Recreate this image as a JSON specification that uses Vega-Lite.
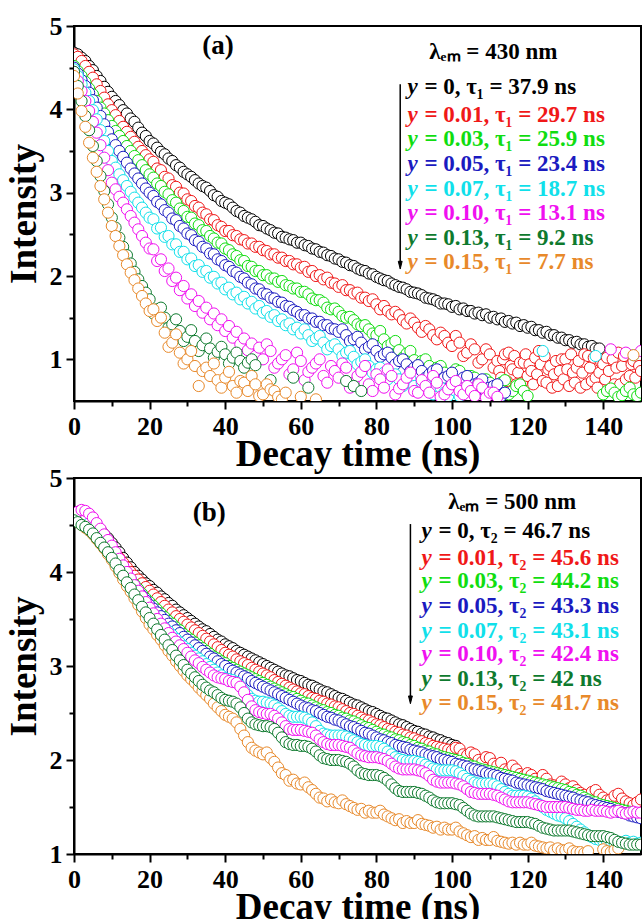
{
"$schema":"https://vega.github.io/schema/vega-lite/v6.json",
"padding":{"left":4,"top":12,"right":0,"bottom":0},
"bounds":"flush",
"spacing":77,
"config":{
"view":{"stroke":"#000","strokeWidth":2},
"axis":{"domainColor":"#000","domainWidth":2,"tickColor":"#000","tickWidth":2,"labelFont":"Liberation Serif","labelFontSize":26,"labelFontWeight":"bold","labelColor":"#000","titleFont":"Liberation Serif","titleFontSize":37,"titleFontWeight":"bold","titleColor":"#000","grid":false,"labelFlush":false,"labelOverlap":false},
"text":{"font":"Liberation Serif","fontWeight":"bold"},
"point":{"shape":"circle","filled":true,"fill":"#ffffff","strokeWidth":1,"size":125,"opacity":1}
},
"datasets":{
"la":[{"s":0,"t":"= 0, τ₁ = 37.9 ns","y":4.18},{"s":1,"t":"= 0.01, τ₁ = 29.7 ns","y":3.85},{"s":2,"t":"= 0.03, τ₁ = 25.9 ns","y":3.56},{"s":3,"t":"= 0.05, τ₁ = 23.4 ns","y":3.26},{"s":4,"t":"= 0.07, τ₁ = 18.7 ns","y":2.96},{"s":5,"t":"= 0.10, τ₁ = 13.1 ns","y":2.67},{"s":6,"t":"= 0.13, τ₁ = 9.2 ns","y":2.37},{"s":7,"t":"= 0.15, τ₁ = 7.7 ns","y":2.08}],
"lb":[{"s":0,"t":"= 0, τ₂ = 46.7 ns","y":4.36},{"s":1,"t":"= 0.01, τ₂ = 45.6 ns","y":4.07},{"s":2,"t":"= 0.03, τ₂ = 44.2 ns","y":3.83},{"s":3,"t":"= 0.05, τ₂ = 43.3 ns","y":3.56},{"s":4,"t":"= 0.07, τ₂ = 43.1 ns","y":3.30},{"s":5,"t":"= 0.10, τ₂ = 42.4 ns","y":3.05},{"s":6,"t":"= 0.13, τ₂ = 42 ns","y":2.79},{"s":7,"t":"= 0.15, τ₂ = 41.7 ns","y":2.53}],
"a0":[{"x":0,"y":4.68},{"x":1,"y":4.66},{"x":2,"y":4.62},{"x":3,"y":4.58},{"x":4,"y":4.52},{"x":5,"y":4.47},{"x":6,"y":4.40},{"x":7,"y":4.34},{"x":8,"y":4.27},{"x":9,"y":4.21},{"x":10,"y":4.15},{"x":11,"y":4.10},{"x":12,"y":4.05},{"x":13,"y":3.99},{"x":14,"y":3.95},{"x":15,"y":3.89},{"x":16,"y":3.85},{"x":17,"y":3.78},{"x":18,"y":3.72},{"x":19,"y":3.68},{"x":20,"y":3.62},{"x":21,"y":3.59},{"x":22,"y":3.54},{"x":23,"y":3.49},{"x":24,"y":3.46},{"x":25,"y":3.41},{"x":26,"y":3.38},{"x":27,"y":3.33},{"x":28,"y":3.30},{"x":29,"y":3.25},{"x":30,"y":3.22},{"x":31,"y":3.19},{"x":32,"y":3.15},{"x":33,"y":3.11},{"x":34,"y":3.08},{"x":35,"y":3.06},{"x":36,"y":3.02},{"x":37,"y":2.97},{"x":38,"y":2.95},{"x":39,"y":2.90},{"x":40,"y":2.88},{"x":41,"y":2.86},{"x":42,"y":2.82},{"x":43,"y":2.78},{"x":44,"y":2.76},{"x":45,"y":2.72},{"x":46,"y":2.70},{"x":47,"y":2.68},{"x":48,"y":2.65},{"x":49,"y":2.61},{"x":50,"y":2.60},{"x":51,"y":2.57},{"x":52,"y":2.55},{"x":53,"y":2.52},{"x":54,"y":2.51},{"x":55,"y":2.47},{"x":56,"y":2.46},{"x":57,"y":2.44},{"x":58,"y":2.43},{"x":59,"y":2.40},{"x":60,"y":2.40},{"x":61,"y":2.37},{"x":62,"y":2.36},{"x":63,"y":2.33},{"x":64,"y":2.32},{"x":65,"y":2.29},{"x":66,"y":2.28},{"x":67,"y":2.25},{"x":68,"y":2.24},{"x":69,"y":2.21},{"x":70,"y":2.20},{"x":71,"y":2.17},{"x":72,"y":2.16},{"x":73,"y":2.13},{"x":74,"y":2.12},{"x":75,"y":2.09},{"x":76,"y":2.07},{"x":77,"y":2.06},{"x":78,"y":2.03},{"x":79,"y":2.02},{"x":80,"y":1.99},{"x":81,"y":1.97},{"x":82,"y":1.95},{"x":83,"y":1.94},{"x":84,"y":1.91},{"x":85,"y":1.89},{"x":86,"y":1.87},{"x":87,"y":1.86},{"x":88,"y":1.84},{"x":89,"y":1.81},{"x":90,"y":1.80},{"x":91,"y":1.79},{"x":92,"y":1.77},{"x":93,"y":1.74},{"x":94,"y":1.73},{"x":95,"y":1.72},{"x":96,"y":1.70},{"x":97,"y":1.67},{"x":98,"y":1.67},{"x":99,"y":1.66},{"x":100,"y":1.63},{"x":101,"y":1.64},{"x":102,"y":1.60},{"x":103,"y":1.61},{"x":104,"y":1.58},{"x":105,"y":1.58},{"x":106,"y":1.55},{"x":107,"y":1.56},{"x":108,"y":1.53},{"x":109,"y":1.54},{"x":110,"y":1.50},{"x":111,"y":1.51},{"x":112,"y":1.48},{"x":113,"y":1.49},{"x":114,"y":1.45},{"x":115,"y":1.46},{"x":116,"y":1.43},{"x":117,"y":1.44},{"x":118,"y":1.40},{"x":119,"y":1.41},{"x":120,"y":1.38},{"x":121,"y":1.39},{"x":122,"y":1.35},{"x":123,"y":1.35},{"x":124,"y":1.32},{"x":125,"y":1.33},{"x":126,"y":1.29},{"x":127,"y":1.29},{"x":128,"y":1.26},{"x":129,"y":1.26},{"x":130,"y":1.23},{"x":131,"y":1.23},{"x":132,"y":1.20},{"x":133,"y":1.21},{"x":134,"y":1.18},{"x":135,"y":1.18},{"x":136,"y":1.15},{"x":137,"y":1.16},{"x":138,"y":1.13},{"x":139,"y":1.13}],
"a1":[{"x":0,"y":4.66},{"x":1,"y":4.63},{"x":2,"y":4.58},{"x":3,"y":4.52},{"x":4,"y":4.45},{"x":5,"y":4.38},{"x":6,"y":4.30},{"x":7,"y":4.22},{"x":8,"y":4.14},{"x":9,"y":4.06},{"x":10,"y":3.99},{"x":11,"y":3.93},{"x":12,"y":3.86},{"x":13,"y":3.79},{"x":14,"y":3.73},{"x":15,"y":3.67},{"x":16,"y":3.61},{"x":17,"y":3.55},{"x":18,"y":3.50},{"x":19,"y":3.45},{"x":20,"y":3.40},{"x":21,"y":3.37},{"x":22,"y":3.29},{"x":23,"y":3.27},{"x":24,"y":3.19},{"x":25,"y":3.17},{"x":26,"y":3.09},{"x":27,"y":3.07},{"x":28,"y":3.00},{"x":29,"y":2.99},{"x":30,"y":2.92},{"x":31,"y":2.90},{"x":32,"y":2.84},{"x":33,"y":2.82},{"x":34,"y":2.76},{"x":35,"y":2.74},{"x":36,"y":2.68},{"x":37,"y":2.67},{"x":38,"y":2.61},{"x":39,"y":2.59},{"x":40,"y":2.54},{"x":41,"y":2.54},{"x":42,"y":2.49},{"x":43,"y":2.48},{"x":44,"y":2.44},{"x":45,"y":2.43},{"x":46,"y":2.39},{"x":47,"y":2.39},{"x":48,"y":2.35},{"x":49,"y":2.35},{"x":50,"y":2.31},{"x":51,"y":2.30},{"x":52,"y":2.26},{"x":53,"y":2.26},{"x":54,"y":2.22},{"x":55,"y":2.22},{"x":56,"y":2.18},{"x":57,"y":2.18},{"x":58,"y":2.14},{"x":59,"y":2.14},{"x":60,"y":2.10},{"x":61,"y":2.11},{"x":62,"y":2.05},{"x":63,"y":2.06},{"x":64,"y":2.00},{"x":65,"y":2.01},{"x":66,"y":1.96},{"x":67,"y":1.98},{"x":68,"y":1.92},{"x":69,"y":1.91},{"x":70,"y":1.87},{"x":71,"y":1.89},{"x":72,"y":1.83},{"x":73,"y":1.83},{"x":74,"y":1.79},{"x":75,"y":1.80},{"x":76,"y":1.74},{"x":77,"y":1.74},{"x":78,"y":1.70},{"x":79,"y":1.72},{"x":80,"y":1.66},{"x":81,"y":1.60},{"x":82,"y":1.64},{"x":83,"y":1.58},{"x":84,"y":1.54},{"x":85,"y":1.57},{"x":86,"y":1.53},{"x":87,"y":1.47},{"x":88,"y":1.43},{"x":89,"y":1.49},{"x":90,"y":1.44},{"x":91,"y":1.38},{"x":92,"y":1.33},{"x":93,"y":1.40},{"x":94,"y":1.36},{"x":95,"y":1.29},{"x":96,"y":1.24},{"x":97,"y":1.32},{"x":98,"y":1.28},{"x":99,"y":1.20},{"x":100,"y":1.16},{"x":101,"y":1.28},{"x":102,"y":1.20},{"x":103,"y":1.04},{"x":104,"y":1.08},{"x":105,"y":1.18},{"x":106,"y":1.12},{"x":107,"y":0.96},{"x":108,"y":1.00},{"x":109,"y":1.12},{"x":110,"y":1.06},{"x":111,"y":0.90},{"x":112,"y":0.98},{"x":112.5,"y":0.86},{"x":113,"y":0.78},{"x":113.5,"y":1.00},{"x":114,"y":1.06},{"x":114.5,"y":0.74},{"x":115,"y":1.08},{"x":115.5,"y":0.92},{"x":116,"y":0.88},{"x":116.5,"y":1.04},{"x":117,"y":0.70},{"x":117.5,"y":0.84},{"x":118,"y":0.96},{"x":118.5,"y":0.72},{"x":119,"y":0.96},{"x":119.5,"y":1.06},{"x":120,"y":0.80},{"x":120.5,"y":0.94},{"x":121,"y":0.86},{"x":121.5,"y":0.70},{"x":122,"y":1.02},{"x":122.5,"y":0.82},{"x":123,"y":1.10},{"x":123.5,"y":0.94},{"x":124,"y":0.74},{"x":124.5,"y":1.04},{"x":125,"y":0.72},{"x":125.5,"y":0.88},{"x":126,"y":0.92},{"x":126.5,"y":0.66},{"x":127,"y":0.82},{"x":127.5,"y":0.98},{"x":128,"y":0.68},{"x":128.5,"y":0.86},{"x":129,"y":1.00},{"x":129.5,"y":0.76},{"x":130,"y":1.00},{"x":130.5,"y":0.88},{"x":131,"y":0.68},{"x":131.5,"y":1.06},{"x":132,"y":0.84},{"x":132.5,"y":0.72},{"x":133,"y":0.90},{"x":133.5,"y":0.98},{"x":134,"y":0.66},{"x":134.5,"y":0.84},{"x":135,"y":1.06},{"x":135.5,"y":0.70},{"x":136,"y":1.04},{"x":136.5,"y":0.90},{"x":137,"y":0.74},{"x":137.5,"y":1.02},{"x":138,"y":0.78},{"x":138.5,"y":0.66},{"x":139,"y":0.84},{"x":139.5,"y":0.96},{"x":140,"y":0.94},{"x":140.5,"y":0.76},{"x":141,"y":1.02},{"x":141.5,"y":0.86},{"x":142,"y":0.64},{"x":142.5,"y":1.00},{"x":143,"y":0.70},{"x":143.5,"y":0.90},{"x":144,"y":1.08},{"x":144.5,"y":0.70},{"x":145,"y":0.92},{"x":145.5,"y":1.04},{"x":146,"y":0.76},{"x":146.5,"y":0.62},{"x":147,"y":0.80},{"x":147.5,"y":0.94},{"x":148,"y":0.98},{"x":148.5,"y":0.78},{"x":149,"y":1.04},{"x":149.5,"y":0.92},{"x":150,"y":0.86}],
"a2":[{"x":0,"y":4.52},{"x":1,"y":4.46},{"x":2,"y":4.40},{"x":3,"y":4.33},{"x":4,"y":4.25},{"x":5,"y":4.18},{"x":6,"y":4.10},{"x":7,"y":4.02},{"x":8,"y":3.95},{"x":9,"y":3.87},{"x":10,"y":3.80},{"x":11,"y":3.74},{"x":12,"y":3.68},{"x":13,"y":3.62},{"x":14,"y":3.56},{"x":15,"y":3.50},{"x":16,"y":3.44},{"x":17,"y":3.39},{"x":18,"y":3.33},{"x":19,"y":3.27},{"x":20,"y":3.22},{"x":21,"y":3.18},{"x":22,"y":3.11},{"x":23,"y":3.08},{"x":24,"y":3.01},{"x":25,"y":2.98},{"x":26,"y":2.91},{"x":27,"y":2.88},{"x":28,"y":2.81},{"x":29,"y":2.78},{"x":30,"y":2.71},{"x":31,"y":2.70},{"x":32,"y":2.63},{"x":33,"y":2.61},{"x":34,"y":2.55},{"x":35,"y":2.54},{"x":36,"y":2.48},{"x":37,"y":2.45},{"x":38,"y":2.40},{"x":39,"y":2.39},{"x":40,"y":2.33},{"x":41,"y":2.31},{"x":42,"y":2.26},{"x":43,"y":2.24},{"x":44,"y":2.19},{"x":45,"y":2.18},{"x":46,"y":2.12},{"x":47,"y":2.11},{"x":48,"y":2.06},{"x":49,"y":2.06},{"x":50,"y":2.01},{"x":51,"y":2.01},{"x":52,"y":1.97},{"x":53,"y":1.97},{"x":54,"y":1.93},{"x":55,"y":1.94},{"x":56,"y":1.89},{"x":57,"y":1.88},{"x":58,"y":1.85},{"x":59,"y":1.85},{"x":60,"y":1.81},{"x":61,"y":1.81},{"x":62,"y":1.78},{"x":63,"y":1.73},{"x":64,"y":1.71},{"x":65,"y":1.71},{"x":66,"y":1.68},{"x":67,"y":1.62},{"x":68,"y":1.60},{"x":69,"y":1.61},{"x":70,"y":1.57},{"x":71,"y":1.52},{"x":72,"y":1.50},{"x":73,"y":1.51},{"x":74,"y":1.47},{"x":75,"y":1.42},{"x":76,"y":1.40},{"x":77,"y":1.41},{"x":78,"y":1.36},{"x":79,"y":1.31},{"x":80,"y":1.29},{"x":81,"y":1.34},{"x":82,"y":1.24},{"x":83,"y":1.16},{"x":84,"y":1.19},{"x":85,"y":1.22},{"x":86,"y":1.11},{"x":87,"y":1.02},{"x":88,"y":1.07},{"x":89,"y":1.10},{"x":90,"y":0.99},{"x":91,"y":0.92},{"x":92,"y":0.98},{"x":93,"y":1.00},{"x":94,"y":0.92},{"x":95,"y":0.82},{"x":96,"y":0.90},{"x":97,"y":0.92},{"x":98,"y":0.84},{"x":99,"y":0.74},{"x":100,"y":0.80},{"x":101,"y":0.88},{"x":102,"y":0.86},{"x":103,"y":0.66},{"x":104,"y":0.72},{"x":105,"y":0.80},{"x":106,"y":0.78},{"x":107,"y":0.60},{"x":108,"y":0.66},{"x":109,"y":0.76},{"x":110,"y":0.72},{"x":111,"y":0.66},{"x":112,"y":0.60},{"x":113,"y":0.72},{"x":114,"y":0.75},{"x":115,"y":0.58},{"x":116,"y":0.62},{"x":117,"y":0.68},{"x":118,"y":0.70},{"x":119,"y":0.62},{"x":120,"y":0.56},{"x":140,"y":0.58},{"x":141,"y":0.62},{"x":142,"y":0.65},{"x":143,"y":0.60},{"x":144,"y":0.55},{"x":145,"y":0.57},{"x":146,"y":0.62},{"x":147,"y":0.66},{"x":148,"y":0.58},{"x":149,"y":0.56},{"x":150,"y":0.60}],
"a3":[{"x":0,"y":4.50},{"x":1,"y":4.43},{"x":2,"y":4.35},{"x":3,"y":4.28},{"x":4,"y":4.20},{"x":5,"y":4.11},{"x":6,"y":4.02},{"x":7,"y":3.92},{"x":8,"y":3.82},{"x":9,"y":3.73},{"x":10,"y":3.64},{"x":11,"y":3.57},{"x":12,"y":3.50},{"x":13,"y":3.43},{"x":14,"y":3.36},{"x":15,"y":3.29},{"x":16,"y":3.23},{"x":17,"y":3.17},{"x":18,"y":3.11},{"x":19,"y":3.05},{"x":20,"y":3.00},{"x":21,"y":2.96},{"x":22,"y":2.89},{"x":23,"y":2.86},{"x":24,"y":2.79},{"x":25,"y":2.76},{"x":26,"y":2.69},{"x":27,"y":2.67},{"x":28,"y":2.60},{"x":29,"y":2.57},{"x":30,"y":2.51},{"x":31,"y":2.49},{"x":32,"y":2.43},{"x":33,"y":2.41},{"x":34,"y":2.35},{"x":35,"y":2.33},{"x":36,"y":2.27},{"x":37,"y":2.26},{"x":38,"y":2.20},{"x":39,"y":2.18},{"x":40,"y":2.13},{"x":41,"y":2.11},{"x":42,"y":2.06},{"x":43,"y":2.04},{"x":44,"y":1.99},{"x":45,"y":1.97},{"x":46,"y":1.92},{"x":47,"y":1.90},{"x":48,"y":1.85},{"x":49,"y":1.84},{"x":50,"y":1.79},{"x":51,"y":1.78},{"x":52,"y":1.74},{"x":53,"y":1.73},{"x":54,"y":1.69},{"x":55,"y":1.68},{"x":56,"y":1.64},{"x":57,"y":1.63},{"x":58,"y":1.59},{"x":59,"y":1.57},{"x":60,"y":1.53},{"x":61,"y":1.53},{"x":62,"y":1.49},{"x":63,"y":1.49},{"x":64,"y":1.45},{"x":65,"y":1.45},{"x":66,"y":1.41},{"x":67,"y":1.41},{"x":68,"y":1.37},{"x":69,"y":1.36},{"x":70,"y":1.33},{"x":71,"y":1.36},{"x":72,"y":1.29},{"x":73,"y":1.22},{"x":74,"y":1.24},{"x":75,"y":1.27},{"x":76,"y":1.20},{"x":77,"y":1.12},{"x":78,"y":1.15},{"x":79,"y":1.18},{"x":80,"y":1.10},{"x":81,"y":1.03},{"x":82,"y":1.06},{"x":83,"y":1.08},{"x":84,"y":1.02},{"x":85,"y":0.94},{"x":86,"y":0.98},{"x":87,"y":1.00},{"x":88,"y":0.94},{"x":89,"y":0.86},{"x":90,"y":0.90},{"x":91,"y":0.93},{"x":92,"y":0.86},{"x":93,"y":0.78},{"x":94,"y":0.82},{"x":95,"y":0.86},{"x":96,"y":0.88},{"x":97,"y":0.72},{"x":98,"y":0.78},{"x":99,"y":0.80},{"x":100,"y":0.84},{"x":101,"y":0.68},{"x":102,"y":0.74},{"x":103,"y":0.78},{"x":104,"y":0.80},{"x":105,"y":0.64},{"x":106,"y":0.70},{"x":107,"y":0.72},{"x":108,"y":0.76},{"x":109,"y":0.60},{"x":110,"y":0.66},{"x":111,"y":0.68},{"x":112,"y":0.70},{"x":113,"y":0.56},{"x":114,"y":0.60}],
"a4":[{"x":0,"y":4.48},{"x":1,"y":4.40},{"x":2,"y":4.30},{"x":3,"y":4.20},{"x":4,"y":4.10},{"x":5,"y":3.99},{"x":6,"y":3.88},{"x":7,"y":3.75},{"x":8,"y":3.62},{"x":9,"y":3.50},{"x":10,"y":3.38},{"x":11,"y":3.30},{"x":12,"y":3.22},{"x":13,"y":3.15},{"x":14,"y":3.08},{"x":15,"y":3.01},{"x":16,"y":2.94},{"x":17,"y":2.88},{"x":18,"y":2.82},{"x":19,"y":2.76},{"x":20,"y":2.70},{"x":21,"y":2.68},{"x":22,"y":2.57},{"x":23,"y":2.58},{"x":24,"y":2.47},{"x":25,"y":2.48},{"x":26,"y":2.38},{"x":27,"y":2.38},{"x":28,"y":2.29},{"x":29,"y":2.29},{"x":30,"y":2.20},{"x":31,"y":2.21},{"x":32,"y":2.12},{"x":33,"y":2.13},{"x":34,"y":2.05},{"x":35,"y":2.06},{"x":36,"y":1.98},{"x":37,"y":1.99},{"x":38,"y":1.91},{"x":39,"y":1.92},{"x":40,"y":1.84},{"x":41,"y":1.86},{"x":42,"y":1.78},{"x":43,"y":1.80},{"x":44,"y":1.72},{"x":45,"y":1.75},{"x":46,"y":1.67},{"x":47,"y":1.69},{"x":48,"y":1.61},{"x":49,"y":1.64},{"x":50,"y":1.56},{"x":51,"y":1.58},{"x":52,"y":1.51},{"x":53,"y":1.53},{"x":54,"y":1.46},{"x":55,"y":1.48},{"x":56,"y":1.41},{"x":57,"y":1.43},{"x":58,"y":1.36},{"x":59,"y":1.38},{"x":60,"y":1.31},{"x":61,"y":1.36},{"x":62,"y":1.29},{"x":63,"y":1.22},{"x":64,"y":1.25},{"x":65,"y":1.28},{"x":66,"y":1.20},{"x":67,"y":1.12},{"x":68,"y":1.16},{"x":69,"y":1.18},{"x":70,"y":1.12},{"x":71,"y":1.04},{"x":72,"y":1.08},{"x":73,"y":1.10},{"x":74,"y":1.03},{"x":75,"y":0.94},{"x":76,"y":0.97},{"x":77,"y":1.00},{"x":78,"y":0.92},{"x":79,"y":0.84},{"x":80,"y":0.88},{"x":81,"y":0.90},{"x":82,"y":0.84},{"x":83,"y":0.76},{"x":84,"y":0.80},{"x":85,"y":0.82},{"x":86,"y":0.76},{"x":87,"y":0.68},{"x":88,"y":0.72},{"x":89,"y":0.76},{"x":90,"y":0.68},{"x":91,"y":0.62},{"x":92,"y":0.72},{"x":93,"y":0.70},{"x":94,"y":0.64},{"x":95,"y":0.58},{"x":96,"y":0.68},{"x":97,"y":0.66},{"x":98,"y":0.60},{"x":99,"y":0.56},{"x":100,"y":0.64},{"x":101,"y":0.62},{"x":102,"y":0.56},{"x":124,"y":1.10},{"x":138,"y":1.04},{"x":148,"y":1.05}],
"a5":[{"x":0,"y":4.45},{"x":1,"y":4.34},{"x":2,"y":4.22},{"x":3,"y":4.10},{"x":4,"y":3.98},{"x":5,"y":3.85},{"x":6,"y":3.72},{"x":7,"y":3.57},{"x":8,"y":3.42},{"x":9,"y":3.27},{"x":10,"y":3.12},{"x":11,"y":3.04},{"x":12,"y":2.95},{"x":13,"y":2.88},{"x":14,"y":2.80},{"x":15,"y":2.72},{"x":16,"y":2.64},{"x":17,"y":2.56},{"x":18,"y":2.48},{"x":19,"y":2.40},{"x":20,"y":2.33},{"x":21,"y":2.32},{"x":22,"y":2.18},{"x":23,"y":2.20},{"x":24,"y":2.06},{"x":25,"y":2.09},{"x":26,"y":1.94},{"x":27,"y":1.98},{"x":28,"y":1.83},{"x":29,"y":1.88},{"x":30,"y":1.73},{"x":31,"y":1.78},{"x":32,"y":1.64},{"x":33,"y":1.70},{"x":34,"y":1.56},{"x":35,"y":1.62},{"x":36,"y":1.48},{"x":37,"y":1.55},{"x":38,"y":1.41},{"x":39,"y":1.48},{"x":40,"y":1.34},{"x":41,"y":1.40},{"x":42,"y":1.26},{"x":43,"y":1.33},{"x":44,"y":1.18},{"x":45,"y":1.25},{"x":46,"y":1.11},{"x":47,"y":1.19},{"x":48,"y":1.04},{"x":49,"y":1.14},{"x":50,"y":1.00},{"x":51,"y":1.18},{"x":52,"y":1.10},{"x":53,"y":0.90},{"x":54,"y":0.95},{"x":55,"y":1.00},{"x":56,"y":1.05},{"x":57,"y":0.82},{"x":58,"y":0.88},{"x":59,"y":1.08},{"x":60,"y":0.98},{"x":61,"y":0.75},{"x":62,"y":0.85},{"x":63,"y":0.90},{"x":64,"y":0.95},{"x":65,"y":1.00},{"x":66,"y":0.80},{"x":67,"y":0.72},{"x":68,"y":0.92},{"x":69,"y":0.86},{"x":70,"y":0.78},{"x":71,"y":0.95},{"x":72,"y":0.90},{"x":73,"y":0.66},{"x":74,"y":0.72},{"x":75,"y":0.80},{"x":76,"y":0.85},{"x":77,"y":0.92},{"x":78,"y":0.70},{"x":79,"y":0.62},{"x":80,"y":0.82},{"x":81,"y":0.76},{"x":82,"y":0.66},{"x":83,"y":0.88},{"x":84,"y":0.80},{"x":85,"y":0.58},{"x":86,"y":0.65},{"x":87,"y":0.70},{"x":88,"y":0.78},{"x":89,"y":0.84},{"x":90,"y":0.62},{"x":91,"y":0.60},{"x":92,"y":0.75},{"x":93,"y":0.68},{"x":94,"y":0.60},{"x":95,"y":0.80},{"x":96,"y":0.72},{"x":97,"y":0.55},{"x":98,"y":0.58},{"x":99,"y":0.64},{"x":100,"y":0.70},{"x":101,"y":0.74},{"x":102,"y":0.62},{"x":103,"y":0.58},{"x":104,"y":0.68},{"x":105,"y":0.62},{"x":106,"y":0.56},{"x":107,"y":0.70},{"x":108,"y":0.66},{"x":109,"y":0.54},{"x":110,"y":0.60},{"x":111,"y":0.60},{"x":112,"y":0.55},{"x":142,"y":1.12},{"x":146,"y":1.08},{"x":150,"y":1.10}],
"a6":[{"x":0,"y":4.45},{"x":1,"y":4.28},{"x":2,"y":4.10},{"x":3,"y":3.92},{"x":4,"y":3.75},{"x":5,"y":3.56},{"x":6,"y":3.38},{"x":7,"y":3.20},{"x":8,"y":3.02},{"x":9,"y":2.86},{"x":10,"y":2.70},{"x":11,"y":2.58},{"x":12,"y":2.46},{"x":13,"y":2.35},{"x":14,"y":2.25},{"x":15,"y":2.15},{"x":16,"y":2.05},{"x":17,"y":1.96},{"x":18,"y":1.88},{"x":19,"y":1.80},{"x":20,"y":1.72},{"x":21,"y":1.55},{"x":22,"y":1.60},{"x":23,"y":1.62},{"x":24,"y":1.50},{"x":25,"y":1.38},{"x":26,"y":1.42},{"x":27,"y":1.48},{"x":28,"y":1.34},{"x":29,"y":1.22},{"x":30,"y":1.27},{"x":31,"y":1.35},{"x":32,"y":1.22},{"x":33,"y":1.10},{"x":34,"y":1.17},{"x":35,"y":1.25},{"x":36,"y":1.13},{"x":37,"y":1.02},{"x":38,"y":1.09},{"x":39,"y":1.15},{"x":40,"y":1.06},{"x":41,"y":0.95},{"x":42,"y":1.02},{"x":43,"y":1.08},{"x":44,"y":0.98},{"x":45,"y":0.90},{"x":46,"y":0.96},{"x":47,"y":1.00},{"x":48,"y":0.93},{"x":52,"y":0.75},{"x":58,"y":0.78},{"x":62,"y":0.66},{"x":72,"y":0.74},{"x":74,"y":0.68},{"x":76,"y":0.62}],
"a7":[{"x":0,"y":4.40},{"x":1,"y":4.19},{"x":2,"y":3.98},{"x":3,"y":3.79},{"x":4,"y":3.60},{"x":5,"y":3.42},{"x":6,"y":3.25},{"x":7,"y":3.08},{"x":8,"y":2.92},{"x":9,"y":2.76},{"x":10,"y":2.60},{"x":11,"y":2.48},{"x":12,"y":2.36},{"x":13,"y":2.25},{"x":14,"y":2.14},{"x":15,"y":2.04},{"x":16,"y":1.95},{"x":17,"y":1.85},{"x":18,"y":1.76},{"x":19,"y":1.67},{"x":20,"y":1.58},{"x":21,"y":1.60},{"x":22,"y":1.46},{"x":23,"y":1.50},{"x":24,"y":1.32},{"x":25,"y":1.15},{"x":26,"y":1.20},{"x":27,"y":1.30},{"x":28,"y":1.08},{"x":29,"y":0.95},{"x":30,"y":1.00},{"x":31,"y":1.10},{"x":32,"y":0.92},{"x":33,"y":0.68},{"x":34,"y":0.86},{"x":35,"y":0.90},{"x":36,"y":0.80},{"x":37,"y":0.95},{"x":38,"y":0.75},{"x":39,"y":0.66},{"x":40,"y":0.78},{"x":41,"y":0.85},{"x":42,"y":0.68},{"x":43,"y":0.60},{"x":44,"y":0.74},{"x":45,"y":0.72},{"x":46,"y":0.62},{"x":47,"y":0.80},{"x":48,"y":0.70},{"x":49,"y":0.56},{"x":50,"y":0.58},{"x":51,"y":0.70},{"x":52,"y":0.64},{"x":53,"y":0.62},{"x":54,"y":0.55},{"x":55,"y":0.52},{"x":56,"y":0.60},{"x":60,"y":0.55},{"x":64,"y":0.52},{"x":148,"y":1.05}],
"b0":[{"x":0,"y":4.63},{"x":1,"y":4.64},{"x":2,"y":4.62},{"x":3,"y":4.59},{"x":4,"y":4.56},{"x":5,"y":4.53},{"x":6,"y":4.49},{"x":7,"y":4.45},{"x":8,"y":4.40},{"x":9,"y":4.36},{"x":10,"y":4.31},{"x":11,"y":4.26},{"x":12,"y":4.21},{"x":13,"y":4.15},{"x":14,"y":4.10},{"x":15,"y":4.05},{"x":16,"y":4.00},{"x":17,"y":3.96},{"x":18,"y":3.92},{"x":19,"y":3.88},{"x":20,"y":3.85},{"x":21,"y":3.81},{"x":22,"y":3.78},{"x":23,"y":3.74},{"x":24,"y":3.71},{"x":25,"y":3.67},{"x":26,"y":3.64},{"x":27,"y":3.60},{"x":28,"y":3.57},{"x":29,"y":3.54},{"x":30,"y":3.51},{"x":31,"y":3.48},{"x":32,"y":3.45},{"x":33,"y":3.42},{"x":34,"y":3.39},{"x":35,"y":3.37},{"x":36,"y":3.34},{"x":37,"y":3.31},{"x":38,"y":3.28},{"x":39,"y":3.26},{"x":40,"y":3.23},{"x":41,"y":3.21},{"x":42,"y":3.19},{"x":43,"y":3.16},{"x":44,"y":3.14},{"x":45,"y":3.12},{"x":46,"y":3.10},{"x":47,"y":3.08},{"x":48,"y":3.06},{"x":49,"y":3.04},{"x":50,"y":3.02},{"x":51,"y":3.00},{"x":52,"y":2.98},{"x":53,"y":2.96},{"x":54,"y":2.94},{"x":55,"y":2.92},{"x":56,"y":2.90},{"x":57,"y":2.89},{"x":58,"y":2.87},{"x":59,"y":2.85},{"x":60,"y":2.84},{"x":61,"y":2.82},{"x":62,"y":2.80},{"x":63,"y":2.79},{"x":64,"y":2.77},{"x":65,"y":2.75},{"x":66,"y":2.73},{"x":67,"y":2.72},{"x":68,"y":2.70},{"x":69,"y":2.68},{"x":70,"y":2.66},{"x":71,"y":2.65},{"x":72,"y":2.63},{"x":73,"y":2.61},{"x":74,"y":2.59},{"x":75,"y":2.58},{"x":76,"y":2.56},{"x":77,"y":2.54},{"x":78,"y":2.52},{"x":79,"y":2.51},{"x":80,"y":2.49},{"x":81,"y":2.47},{"x":82,"y":2.45},{"x":83,"y":2.44},{"x":84,"y":2.42},{"x":85,"y":2.40},{"x":86,"y":2.38},{"x":87,"y":2.37},{"x":88,"y":2.35},{"x":89,"y":2.33},{"x":90,"y":2.31},{"x":91,"y":2.30},{"x":92,"y":2.28},{"x":93,"y":2.27},{"x":94,"y":2.25},{"x":95,"y":2.24},{"x":96,"y":2.22},{"x":97,"y":2.21},{"x":98,"y":2.19},{"x":99,"y":2.18},{"x":100,"y":2.16},{"x":101,"y":2.15}],
"b1":[{"x":0,"y":4.62},{"x":1,"y":4.60},{"x":2,"y":4.58},{"x":3,"y":4.54},{"x":4,"y":4.50},{"x":5,"y":4.46},{"x":6,"y":4.42},{"x":7,"y":4.38},{"x":8,"y":4.33},{"x":9,"y":4.29},{"x":10,"y":4.24},{"x":11,"y":4.20},{"x":12,"y":4.15},{"x":13,"y":4.10},{"x":14,"y":4.05},{"x":15,"y":4.00},{"x":16,"y":3.96},{"x":17,"y":3.92},{"x":18,"y":3.88},{"x":19,"y":3.84},{"x":20,"y":3.80},{"x":21,"y":3.76},{"x":22,"y":3.72},{"x":23,"y":3.68},{"x":24,"y":3.64},{"x":25,"y":3.60},{"x":26,"y":3.57},{"x":27,"y":3.53},{"x":28,"y":3.50},{"x":29,"y":3.47},{"x":30,"y":3.44},{"x":31,"y":3.41},{"x":32,"y":3.38},{"x":33,"y":3.35},{"x":34,"y":3.32},{"x":35,"y":3.29},{"x":36,"y":3.26},{"x":37,"y":3.23},{"x":38,"y":3.20},{"x":39,"y":3.17},{"x":40,"y":3.14},{"x":41,"y":3.12},{"x":42,"y":3.10},{"x":43,"y":3.07},{"x":44,"y":3.05},{"x":45,"y":3.03},{"x":46,"y":3.01},{"x":47,"y":2.98},{"x":48,"y":2.96},{"x":49,"y":2.94},{"x":50,"y":2.92},{"x":51,"y":2.90},{"x":52,"y":2.88},{"x":53,"y":2.85},{"x":54,"y":2.83},{"x":55,"y":2.81},{"x":56,"y":2.79},{"x":57,"y":2.77},{"x":58,"y":2.75},{"x":59,"y":2.73},{"x":60,"y":2.71},{"x":61,"y":2.70},{"x":62,"y":2.68},{"x":63,"y":2.66},{"x":64,"y":2.65},{"x":65,"y":2.63},{"x":66,"y":2.62},{"x":67,"y":2.60},{"x":68,"y":2.59},{"x":69,"y":2.57},{"x":70,"y":2.56},{"x":71,"y":2.54},{"x":72,"y":2.52},{"x":73,"y":2.50},{"x":74,"y":2.49},{"x":75,"y":2.47},{"x":76,"y":2.45},{"x":77,"y":2.43},{"x":78,"y":2.42},{"x":79,"y":2.40},{"x":80,"y":2.38},{"x":81,"y":2.37},{"x":82,"y":2.35},{"x":83,"y":2.33},{"x":84,"y":2.32},{"x":85,"y":2.30},{"x":86,"y":2.29},{"x":87,"y":2.27},{"x":88,"y":2.26},{"x":89,"y":2.24},{"x":90,"y":2.23},{"x":91,"y":2.21},{"x":92,"y":2.20},{"x":93,"y":2.18},{"x":94,"y":2.17},{"x":95,"y":2.15},{"x":96,"y":2.14},{"x":97,"y":2.13},{"x":98,"y":2.12},{"x":99,"y":2.11},{"x":100,"y":2.10},{"x":101,"y":2.13},{"x":102,"y":2.12},{"x":103,"y":2.06},{"x":104,"y":2.05},{"x":105,"y":2.08},{"x":106,"y":2.06},{"x":107,"y":2.00},{"x":108,"y":1.98},{"x":109,"y":2.03},{"x":110,"y":2.02},{"x":111,"y":1.96},{"x":112,"y":1.94},{"x":113,"y":1.97},{"x":114,"y":1.90},{"x":115,"y":1.89},{"x":116,"y":1.94},{"x":117,"y":1.90},{"x":118,"y":1.85},{"x":119,"y":1.83},{"x":120,"y":1.86},{"x":121,"y":1.84},{"x":122,"y":1.80},{"x":123,"y":1.77},{"x":124,"y":1.84},{"x":125,"y":1.80},{"x":126,"y":1.74},{"x":127,"y":1.73},{"x":128,"y":1.72},{"x":129,"y":1.77},{"x":130,"y":1.74},{"x":131,"y":1.70},{"x":132,"y":1.72},{"x":133,"y":1.68},{"x":134,"y":1.65},{"x":135,"y":1.63},{"x":136,"y":1.60},{"x":137,"y":1.66},{"x":138,"y":1.68},{"x":139,"y":1.63},{"x":140,"y":1.60},{"x":141,"y":1.57},{"x":142,"y":1.58},{"x":143,"y":1.62},{"x":144,"y":1.64},{"x":145,"y":1.59},{"x":146,"y":1.56},{"x":147,"y":1.54},{"x":148,"y":1.52},{"x":149,"y":1.55},{"x":150,"y":1.58}],
"b2":[{"x":0,"y":4.58},{"x":1,"y":4.58},{"x":2,"y":4.56},{"x":3,"y":4.53},{"x":4,"y":4.49},{"x":5,"y":4.45},{"x":6,"y":4.40},{"x":7,"y":4.35},{"x":8,"y":4.30},{"x":9,"y":4.25},{"x":10,"y":4.20},{"x":11,"y":4.15},{"x":12,"y":4.10},{"x":13,"y":4.04},{"x":14,"y":3.98},{"x":15,"y":3.92},{"x":16,"y":3.87},{"x":17,"y":3.82},{"x":18,"y":3.77},{"x":19,"y":3.72},{"x":20,"y":3.68},{"x":21,"y":3.64},{"x":22,"y":3.60},{"x":23,"y":3.56},{"x":24,"y":3.52},{"x":25,"y":3.48},{"x":26,"y":3.45},{"x":27,"y":3.41},{"x":28,"y":3.38},{"x":29,"y":3.34},{"x":30,"y":3.31},{"x":31,"y":3.28},{"x":32,"y":3.25},{"x":33,"y":3.22},{"x":34,"y":3.19},{"x":35,"y":3.16},{"x":36,"y":3.13},{"x":37,"y":3.10},{"x":38,"y":3.08},{"x":39,"y":3.05},{"x":40,"y":3.03},{"x":41,"y":3.00},{"x":42,"y":2.98},{"x":43,"y":2.96},{"x":44,"y":2.94},{"x":45,"y":2.92},{"x":46,"y":2.90},{"x":47,"y":2.88},{"x":48,"y":2.86},{"x":49,"y":2.84},{"x":50,"y":2.82},{"x":51,"y":2.80},{"x":52,"y":2.78},{"x":53,"y":2.76},{"x":54,"y":2.74},{"x":55,"y":2.72},{"x":56,"y":2.70},{"x":57,"y":2.68},{"x":58,"y":2.67},{"x":59,"y":2.65},{"x":60,"y":2.63},{"x":61,"y":2.61},{"x":62,"y":2.60},{"x":63,"y":2.58},{"x":64,"y":2.56},{"x":65,"y":2.54},{"x":66,"y":2.53},{"x":67,"y":2.51},{"x":68,"y":2.50},{"x":69,"y":2.48},{"x":70,"y":2.47},{"x":71,"y":2.45},{"x":72,"y":2.44},{"x":73,"y":2.42},{"x":74,"y":2.41},{"x":75,"y":2.39},{"x":76,"y":2.37},{"x":77,"y":2.35},{"x":78,"y":2.34},{"x":79,"y":2.32},{"x":80,"y":2.30},{"x":81,"y":2.28},{"x":82,"y":2.27},{"x":83,"y":2.25},{"x":84,"y":2.24},{"x":85,"y":2.22},{"x":86,"y":2.21},{"x":87,"y":2.19},{"x":88,"y":2.18},{"x":89,"y":2.16},{"x":90,"y":2.15},{"x":91,"y":2.13},{"x":92,"y":2.12},{"x":93,"y":2.10},{"x":94,"y":2.09},{"x":95,"y":2.07},{"x":96,"y":2.06},{"x":97,"y":2.04},{"x":98,"y":2.03},{"x":99,"y":2.02},{"x":100,"y":2.01},{"x":101,"y":2.00},{"x":102,"y":1.99},{"x":103,"y":1.97},{"x":104,"y":1.96},{"x":105,"y":1.94},{"x":106,"y":1.93},{"x":107,"y":1.91},{"x":108,"y":1.90},{"x":109,"y":1.89},{"x":110,"y":1.88},{"x":111,"y":1.87},{"x":112,"y":1.86},{"x":113,"y":1.85},{"x":114,"y":1.84},{"x":115,"y":1.83},{"x":116,"y":1.82},{"x":117,"y":1.81},{"x":118,"y":1.80},{"x":119,"y":1.79},{"x":120,"y":1.78},{"x":121,"y":1.77},{"x":122,"y":1.76},{"x":123,"y":1.75},{"x":124,"y":1.74},{"x":125,"y":1.73},{"x":126,"y":1.72},{"x":127,"y":1.71},{"x":128,"y":1.70},{"x":129,"y":1.69},{"x":130,"y":1.68},{"x":131,"y":1.66},{"x":132,"y":1.65},{"x":133,"y":1.63},{"x":134,"y":1.62},{"x":135,"y":1.60},{"x":136,"y":1.58},{"x":137,"y":1.56},{"x":138,"y":1.55},{"x":139,"y":1.53},{"x":140,"y":1.52},{"x":141,"y":1.51},{"x":142,"y":1.50},{"x":143,"y":1.49},{"x":144,"y":1.48},{"x":145,"y":1.47},{"x":146,"y":1.46},{"x":147,"y":1.45},{"x":148,"y":1.44},{"x":149,"y":1.43},{"x":150,"y":1.42}],
"b3":[{"x":0,"y":4.55},{"x":1,"y":4.56},{"x":2,"y":4.54},{"x":3,"y":4.50},{"x":4,"y":4.46},{"x":5,"y":4.42},{"x":6,"y":4.37},{"x":7,"y":4.33},{"x":8,"y":4.28},{"x":9,"y":4.23},{"x":10,"y":4.18},{"x":11,"y":4.12},{"x":12,"y":4.07},{"x":13,"y":4.01},{"x":14,"y":3.96},{"x":15,"y":3.90},{"x":16,"y":3.85},{"x":17,"y":3.80},{"x":18,"y":3.75},{"x":19,"y":3.70},{"x":20,"y":3.65},{"x":21,"y":3.61},{"x":22,"y":3.57},{"x":23,"y":3.53},{"x":24,"y":3.49},{"x":25,"y":3.45},{"x":26,"y":3.42},{"x":27,"y":3.38},{"x":28,"y":3.35},{"x":29,"y":3.31},{"x":30,"y":3.28},{"x":31,"y":3.25},{"x":32,"y":3.22},{"x":33,"y":3.19},{"x":34,"y":3.16},{"x":35,"y":3.13},{"x":36,"y":3.10},{"x":37,"y":3.08},{"x":38,"y":3.05},{"x":39,"y":3.02},{"x":40,"y":3.00},{"x":41,"y":2.97},{"x":42,"y":2.95},{"x":43,"y":2.93},{"x":44,"y":2.91},{"x":45,"y":2.89},{"x":46,"y":2.87},{"x":47,"y":2.84},{"x":48,"y":2.82},{"x":49,"y":2.80},{"x":50,"y":2.78},{"x":51,"y":2.76},{"x":52,"y":2.74},{"x":53,"y":2.72},{"x":54,"y":2.70},{"x":55,"y":2.68},{"x":56,"y":2.66},{"x":57,"y":2.64},{"x":58,"y":2.62},{"x":59,"y":2.60},{"x":60,"y":2.58},{"x":61,"y":2.56},{"x":62,"y":2.55},{"x":63,"y":2.53},{"x":64,"y":2.52},{"x":65,"y":2.50},{"x":66,"y":2.48},{"x":67,"y":2.46},{"x":68,"y":2.45},{"x":69,"y":2.43},{"x":70,"y":2.42},{"x":71,"y":2.40},{"x":72,"y":2.38},{"x":73,"y":2.36},{"x":74,"y":2.35},{"x":75,"y":2.33},{"x":76,"y":2.31},{"x":77,"y":2.29},{"x":78,"y":2.28},{"x":79,"y":2.26},{"x":80,"y":2.24},{"x":81,"y":2.22},{"x":82,"y":2.21},{"x":83,"y":2.19},{"x":84,"y":2.18},{"x":85,"y":2.16},{"x":86,"y":2.15},{"x":87,"y":2.14},{"x":88,"y":2.13},{"x":89,"y":2.11},{"x":90,"y":2.10},{"x":91,"y":2.09},{"x":92,"y":2.08},{"x":93,"y":2.06},{"x":94,"y":2.05},{"x":95,"y":2.04},{"x":96,"y":2.03},{"x":97,"y":2.01},{"x":98,"y":2.00},{"x":99,"y":1.99},{"x":100,"y":1.98},{"x":101,"y":1.96},{"x":102,"y":1.95},{"x":103,"y":1.94},{"x":104,"y":1.93},{"x":105,"y":1.91},{"x":106,"y":1.90},{"x":107,"y":1.89},{"x":108,"y":1.88},{"x":109,"y":1.86},{"x":110,"y":1.85},{"x":111,"y":1.84},{"x":112,"y":1.83},{"x":113,"y":1.81},{"x":114,"y":1.80},{"x":115,"y":1.79},{"x":116,"y":1.78},{"x":117,"y":1.76},{"x":118,"y":1.75},{"x":119,"y":1.74},{"x":120,"y":1.73},{"x":121,"y":1.72},{"x":122,"y":1.71},{"x":123,"y":1.70},{"x":124,"y":1.69},{"x":125,"y":1.67},{"x":126,"y":1.66},{"x":127,"y":1.65},{"x":128,"y":1.64},{"x":129,"y":1.63},{"x":130,"y":1.62},{"x":131,"y":1.61},{"x":132,"y":1.60},{"x":133,"y":1.58},{"x":134,"y":1.57},{"x":135,"y":1.56},{"x":136,"y":1.55},{"x":137,"y":1.53},{"x":138,"y":1.52},{"x":139,"y":1.51},{"x":140,"y":1.50},{"x":141,"y":1.49},{"x":142,"y":1.48},{"x":143,"y":1.46},{"x":144,"y":1.45},{"x":145,"y":1.44},{"x":146,"y":1.43},{"x":147,"y":1.41},{"x":148,"y":1.40},{"x":149,"y":1.39},{"x":150,"y":1.38}],
"b4":[{"x":0,"y":4.58},{"x":1,"y":4.60},{"x":2,"y":4.60},{"x":3,"y":4.57},{"x":4,"y":4.52},{"x":5,"y":4.47},{"x":6,"y":4.42},{"x":7,"y":4.36},{"x":8,"y":4.30},{"x":9,"y":4.24},{"x":10,"y":4.18},{"x":11,"y":4.11},{"x":12,"y":4.05},{"x":13,"y":3.99},{"x":14,"y":3.93},{"x":15,"y":3.86},{"x":16,"y":3.80},{"x":17,"y":3.75},{"x":18,"y":3.70},{"x":19,"y":3.65},{"x":20,"y":3.60},{"x":21,"y":3.55},{"x":22,"y":3.50},{"x":23,"y":3.45},{"x":24,"y":3.41},{"x":25,"y":3.37},{"x":26,"y":3.33},{"x":27,"y":3.29},{"x":28,"y":3.25},{"x":29,"y":3.21},{"x":30,"y":3.18},{"x":31,"y":3.14},{"x":32,"y":3.11},{"x":33,"y":3.08},{"x":34,"y":3.05},{"x":35,"y":3.02},{"x":36,"y":2.99},{"x":37,"y":2.96},{"x":38,"y":2.93},{"x":39,"y":2.90},{"x":40,"y":2.87},{"x":41,"y":2.86},{"x":42,"y":2.85},{"x":43,"y":2.83},{"x":44,"y":2.79},{"x":45,"y":2.74},{"x":46,"y":2.69},{"x":47,"y":2.65},{"x":48,"y":2.63},{"x":49,"y":2.62},{"x":50,"y":2.62},{"x":51,"y":2.61},{"x":52,"y":2.60},{"x":53,"y":2.58},{"x":54,"y":2.55},{"x":55,"y":2.52},{"x":56,"y":2.49},{"x":57,"y":2.47},{"x":58,"y":2.46},{"x":59,"y":2.46},{"x":60,"y":2.46},{"x":61,"y":2.45},{"x":62,"y":2.43},{"x":63,"y":2.40},{"x":64,"y":2.36},{"x":65,"y":2.31},{"x":66,"y":2.28},{"x":67,"y":2.27},{"x":68,"y":2.26},{"x":69,"y":2.26},{"x":70,"y":2.26},{"x":71,"y":2.26},{"x":72,"y":2.25},{"x":73,"y":2.23},{"x":74,"y":2.21},{"x":75,"y":2.19},{"x":76,"y":2.17},{"x":77,"y":2.16},{"x":78,"y":2.15},{"x":79,"y":2.15},{"x":80,"y":2.15},{"x":81,"y":2.14},{"x":82,"y":2.12},{"x":83,"y":2.09},{"x":84,"y":2.06},{"x":85,"y":2.03},{"x":86,"y":2.01},{"x":87,"y":2.00},{"x":88,"y":1.99},{"x":89,"y":1.99},{"x":90,"y":1.99},{"x":91,"y":1.98},{"x":92,"y":1.97},{"x":93,"y":1.95},{"x":94,"y":1.93},{"x":95,"y":1.91},{"x":96,"y":1.90},{"x":97,"y":1.89},{"x":98,"y":1.89},{"x":99,"y":1.89},{"x":100,"y":1.89},{"x":101,"y":1.88},{"x":102,"y":1.86},{"x":103,"y":1.83},{"x":104,"y":1.80},{"x":105,"y":1.78},{"x":106,"y":1.76},{"x":107,"y":1.75},{"x":108,"y":1.75},{"x":109,"y":1.75},{"x":110,"y":1.75},{"x":111,"y":1.74},{"x":112,"y":1.72},{"x":113,"y":1.69},{"x":114,"y":1.66},{"x":115,"y":1.64},{"x":116,"y":1.62},{"x":117,"y":1.62},{"x":118,"y":1.62},{"x":119,"y":1.62},{"x":120,"y":1.61},{"x":121,"y":1.59},{"x":122,"y":1.56},{"x":123,"y":1.53},{"x":124,"y":1.50},{"x":125,"y":1.47},{"x":126,"y":1.45},{"x":127,"y":1.43},{"x":128,"y":1.41},{"x":129,"y":1.40},{"x":130,"y":1.38},{"x":131,"y":1.35},{"x":132,"y":1.32},{"x":133,"y":1.29},{"x":134,"y":1.26},{"x":135,"y":1.23},{"x":136,"y":1.20},{"x":137,"y":1.18},{"x":138,"y":1.16},{"x":139,"y":1.15},{"x":140,"y":1.14},{"x":141,"y":1.13},{"x":142,"y":1.14},{"x":143,"y":1.12},{"x":144,"y":1.13},{"x":145,"y":1.12},{"x":146,"y":1.14},{"x":147,"y":1.12},{"x":148,"y":1.13},{"x":149,"y":1.11},{"x":150,"y":1.12}],
"b5":[{"x":0,"y":4.60},{"x":1,"y":4.64},{"x":2,"y":4.66},{"x":3,"y":4.65},{"x":4,"y":4.62},{"x":5,"y":4.58},{"x":6,"y":4.52},{"x":7,"y":4.46},{"x":8,"y":4.40},{"x":9,"y":4.34},{"x":10,"y":4.28},{"x":11,"y":4.21},{"x":12,"y":4.14},{"x":13,"y":4.07},{"x":14,"y":4.00},{"x":15,"y":3.93},{"x":16,"y":3.86},{"x":17,"y":3.80},{"x":18,"y":3.74},{"x":19,"y":3.68},{"x":20,"y":3.62},{"x":21,"y":3.56},{"x":22,"y":3.50},{"x":23,"y":3.45},{"x":24,"y":3.40},{"x":25,"y":3.35},{"x":26,"y":3.30},{"x":27,"y":3.26},{"x":28,"y":3.22},{"x":29,"y":3.18},{"x":30,"y":3.14},{"x":31,"y":3.10},{"x":32,"y":3.06},{"x":33,"y":3.03},{"x":34,"y":2.99},{"x":35,"y":2.96},{"x":36,"y":2.93},{"x":37,"y":2.90},{"x":38,"y":2.88},{"x":39,"y":2.87},{"x":40,"y":2.86},{"x":41,"y":2.84},{"x":42,"y":2.83},{"x":43,"y":2.82},{"x":44,"y":2.78},{"x":45,"y":2.72},{"x":46,"y":2.64},{"x":47,"y":2.57},{"x":48,"y":2.53},{"x":49,"y":2.51},{"x":50,"y":2.50},{"x":51,"y":2.49},{"x":52,"y":2.49},{"x":53,"y":2.47},{"x":54,"y":2.44},{"x":55,"y":2.40},{"x":56,"y":2.36},{"x":57,"y":2.33},{"x":58,"y":2.32},{"x":59,"y":2.32},{"x":60,"y":2.32},{"x":61,"y":2.31},{"x":62,"y":2.30},{"x":63,"y":2.29},{"x":64,"y":2.26},{"x":65,"y":2.22},{"x":66,"y":2.19},{"x":67,"y":2.17},{"x":68,"y":2.16},{"x":69,"y":2.16},{"x":70,"y":2.16},{"x":71,"y":2.15},{"x":72,"y":2.14},{"x":73,"y":2.13},{"x":74,"y":2.10},{"x":75,"y":2.07},{"x":76,"y":2.05},{"x":77,"y":2.04},{"x":78,"y":2.03},{"x":79,"y":2.03},{"x":80,"y":2.03},{"x":81,"y":2.02},{"x":82,"y":2.01},{"x":83,"y":1.99},{"x":84,"y":1.96},{"x":85,"y":1.93},{"x":86,"y":1.91},{"x":87,"y":1.90},{"x":88,"y":1.90},{"x":89,"y":1.90},{"x":90,"y":1.90},{"x":91,"y":1.89},{"x":92,"y":1.88},{"x":93,"y":1.86},{"x":94,"y":1.83},{"x":95,"y":1.79},{"x":96,"y":1.77},{"x":97,"y":1.76},{"x":98,"y":1.76},{"x":99,"y":1.76},{"x":100,"y":1.76},{"x":101,"y":1.75},{"x":102,"y":1.74},{"x":103,"y":1.72},{"x":104,"y":1.69},{"x":105,"y":1.66},{"x":106,"y":1.65},{"x":107,"y":1.64},{"x":108,"y":1.64},{"x":109,"y":1.64},{"x":110,"y":1.64},{"x":111,"y":1.63},{"x":112,"y":1.62},{"x":113,"y":1.60},{"x":114,"y":1.58},{"x":115,"y":1.56},{"x":116,"y":1.55},{"x":117,"y":1.55},{"x":118,"y":1.55},{"x":119,"y":1.55},{"x":120,"y":1.55},{"x":121,"y":1.54},{"x":122,"y":1.53},{"x":123,"y":1.52},{"x":124,"y":1.51},{"x":125,"y":1.50},{"x":126,"y":1.50},{"x":127,"y":1.50},{"x":128,"y":1.50},{"x":129,"y":1.50},{"x":130,"y":1.50},{"x":131,"y":1.49},{"x":132,"y":1.48},{"x":133,"y":1.47},{"x":134,"y":1.47},{"x":135,"y":1.46},{"x":136,"y":1.46},{"x":137,"y":1.47},{"x":138,"y":1.46},{"x":139,"y":1.46},{"x":140,"y":1.46},{"x":141,"y":1.45},{"x":142,"y":1.44},{"x":143,"y":1.45},{"x":144,"y":1.46},{"x":145,"y":1.44},{"x":146,"y":1.43},{"x":147,"y":1.44},{"x":148,"y":1.45},{"x":149,"y":1.44},{"x":150,"y":1.44}],
"b6":[{"x":0,"y":4.55},{"x":1,"y":4.53},{"x":2,"y":4.50},{"x":3,"y":4.48},{"x":4,"y":4.45},{"x":5,"y":4.41},{"x":6,"y":4.36},{"x":7,"y":4.31},{"x":8,"y":4.26},{"x":9,"y":4.21},{"x":10,"y":4.15},{"x":11,"y":4.09},{"x":12,"y":4.02},{"x":13,"y":3.96},{"x":14,"y":3.89},{"x":15,"y":3.83},{"x":16,"y":3.76},{"x":17,"y":3.70},{"x":18,"y":3.63},{"x":19,"y":3.57},{"x":20,"y":3.51},{"x":21,"y":3.45},{"x":22,"y":3.39},{"x":23,"y":3.33},{"x":24,"y":3.28},{"x":25,"y":3.22},{"x":26,"y":3.17},{"x":27,"y":3.11},{"x":28,"y":3.06},{"x":29,"y":3.01},{"x":30,"y":2.96},{"x":31,"y":2.92},{"x":32,"y":2.88},{"x":33,"y":2.84},{"x":34,"y":2.80},{"x":35,"y":2.77},{"x":36,"y":2.74},{"x":37,"y":2.72},{"x":38,"y":2.69},{"x":39,"y":2.66},{"x":40,"y":2.64},{"x":41,"y":2.63},{"x":42,"y":2.62},{"x":43,"y":2.60},{"x":44,"y":2.56},{"x":45,"y":2.50},{"x":46,"y":2.44},{"x":47,"y":2.40},{"x":48,"y":2.38},{"x":49,"y":2.37},{"x":50,"y":2.36},{"x":51,"y":2.36},{"x":52,"y":2.35},{"x":53,"y":2.33},{"x":54,"y":2.29},{"x":55,"y":2.24},{"x":56,"y":2.19},{"x":57,"y":2.17},{"x":58,"y":2.16},{"x":59,"y":2.16},{"x":60,"y":2.15},{"x":61,"y":2.15},{"x":62,"y":2.14},{"x":63,"y":2.12},{"x":64,"y":2.09},{"x":65,"y":2.05},{"x":66,"y":2.02},{"x":67,"y":2.01},{"x":68,"y":2.00},{"x":69,"y":2.00},{"x":70,"y":2.00},{"x":71,"y":1.99},{"x":72,"y":1.98},{"x":73,"y":1.96},{"x":74,"y":1.93},{"x":75,"y":1.89},{"x":76,"y":1.86},{"x":77,"y":1.85},{"x":78,"y":1.84},{"x":79,"y":1.84},{"x":80,"y":1.84},{"x":81,"y":1.83},{"x":82,"y":1.81},{"x":83,"y":1.78},{"x":84,"y":1.74},{"x":85,"y":1.70},{"x":86,"y":1.67},{"x":87,"y":1.66},{"x":88,"y":1.66},{"x":89,"y":1.66},{"x":90,"y":1.66},{"x":91,"y":1.65},{"x":92,"y":1.64},{"x":93,"y":1.62},{"x":94,"y":1.60},{"x":95,"y":1.57},{"x":96,"y":1.55},{"x":97,"y":1.54},{"x":98,"y":1.54},{"x":99,"y":1.54},{"x":100,"y":1.54},{"x":101,"y":1.53},{"x":102,"y":1.52},{"x":103,"y":1.49},{"x":104,"y":1.46},{"x":105,"y":1.43},{"x":106,"y":1.41},{"x":107,"y":1.40},{"x":108,"y":1.40},{"x":109,"y":1.40},{"x":110,"y":1.40},{"x":111,"y":1.40},{"x":112,"y":1.39},{"x":113,"y":1.38},{"x":114,"y":1.37},{"x":115,"y":1.36},{"x":116,"y":1.35},{"x":117,"y":1.34},{"x":118,"y":1.34},{"x":119,"y":1.34},{"x":120,"y":1.34},{"x":121,"y":1.33},{"x":122,"y":1.32},{"x":123,"y":1.30},{"x":124,"y":1.28},{"x":125,"y":1.27},{"x":126,"y":1.26},{"x":127,"y":1.25},{"x":128,"y":1.25},{"x":129,"y":1.25},{"x":130,"y":1.25},{"x":131,"y":1.25},{"x":132,"y":1.24},{"x":133,"y":1.23},{"x":134,"y":1.22},{"x":135,"y":1.21},{"x":136,"y":1.20},{"x":137,"y":1.19},{"x":138,"y":1.19},{"x":139,"y":1.19},{"x":140,"y":1.19},{"x":141,"y":1.18},{"x":142,"y":1.17},{"x":143,"y":1.15},{"x":144,"y":1.13},{"x":145,"y":1.12},{"x":146,"y":1.11},{"x":147,"y":1.10},{"x":148,"y":1.10},{"x":149,"y":1.10},{"x":150,"y":1.10}],
"b7":[{"x":0,"y":4.55},{"x":1,"y":4.53},{"x":2,"y":4.50},{"x":3,"y":4.47},{"x":4,"y":4.44},{"x":5,"y":4.40},{"x":6,"y":4.35},{"x":7,"y":4.30},{"x":8,"y":4.25},{"x":9,"y":4.19},{"x":10,"y":4.13},{"x":11,"y":4.06},{"x":12,"y":3.99},{"x":13,"y":3.92},{"x":14,"y":3.85},{"x":15,"y":3.79},{"x":16,"y":3.72},{"x":17,"y":3.65},{"x":18,"y":3.58},{"x":19,"y":3.51},{"x":20,"y":3.44},{"x":21,"y":3.39},{"x":22,"y":3.33},{"x":23,"y":3.28},{"x":24,"y":3.22},{"x":25,"y":3.16},{"x":26,"y":3.11},{"x":27,"y":3.05},{"x":28,"y":3.00},{"x":29,"y":2.95},{"x":30,"y":2.90},{"x":31,"y":2.86},{"x":32,"y":2.82},{"x":33,"y":2.77},{"x":34,"y":2.73},{"x":35,"y":2.69},{"x":36,"y":2.65},{"x":37,"y":2.60},{"x":38,"y":2.56},{"x":39,"y":2.52},{"x":40,"y":2.48},{"x":41,"y":2.46},{"x":42,"y":2.44},{"x":43,"y":2.40},{"x":44,"y":2.33},{"x":45,"y":2.26},{"x":46,"y":2.19},{"x":47,"y":2.13},{"x":48,"y":2.10},{"x":49,"y":2.08},{"x":50,"y":2.06},{"x":51,"y":2.08},{"x":52,"y":2.02},{"x":53,"y":1.98},{"x":54,"y":1.92},{"x":55,"y":1.86},{"x":56,"y":1.84},{"x":57,"y":1.78},{"x":58,"y":1.79},{"x":59,"y":1.75},{"x":60,"y":1.74},{"x":61,"y":1.76},{"x":62,"y":1.71},{"x":63,"y":1.68},{"x":64,"y":1.64},{"x":65,"y":1.60},{"x":66,"y":1.59},{"x":67,"y":1.56},{"x":68,"y":1.58},{"x":69,"y":1.55},{"x":70,"y":1.54},{"x":71,"y":1.57},{"x":72,"y":1.53},{"x":73,"y":1.51},{"x":74,"y":1.49},{"x":75,"y":1.47},{"x":76,"y":1.48},{"x":77,"y":1.44},{"x":78,"y":1.46},{"x":79,"y":1.44},{"x":80,"y":1.44},{"x":81,"y":1.46},{"x":82,"y":1.42},{"x":83,"y":1.40},{"x":84,"y":1.38},{"x":85,"y":1.36},{"x":86,"y":1.37},{"x":87,"y":1.33},{"x":88,"y":1.35},{"x":89,"y":1.33},{"x":90,"y":1.33},{"x":91,"y":1.36},{"x":92,"y":1.32},{"x":93,"y":1.31},{"x":94,"y":1.30},{"x":95,"y":1.28},{"x":96,"y":1.29},{"x":97,"y":1.26},{"x":98,"y":1.28},{"x":99,"y":1.26},{"x":100,"y":1.26},{"x":101,"y":1.28},{"x":102,"y":1.24},{"x":103,"y":1.22},{"x":104,"y":1.20},{"x":105,"y":1.18},{"x":106,"y":1.19},{"x":107,"y":1.15},{"x":108,"y":1.17},{"x":109,"y":1.15},{"x":110,"y":1.15},{"x":111,"y":1.18},{"x":112,"y":1.14},{"x":113,"y":1.13},{"x":114,"y":1.12},{"x":115,"y":1.11},{"x":116,"y":1.12},{"x":117,"y":1.10},{"x":118,"y":1.12},{"x":119,"y":1.10},{"x":120,"y":1.10},{"x":121,"y":1.12},{"x":122,"y":1.09},{"x":123,"y":1.08},{"x":124,"y":1.07},{"x":125,"y":1.06},{"x":126,"y":1.07},{"x":127,"y":1.04},{"x":128,"y":1.06},{"x":129,"y":1.04},{"x":130,"y":1.04},{"x":131,"y":1.06},{"x":132,"y":1.03},{"x":133,"y":1.02},{"x":134,"y":1.02},{"x":135,"y":1.01},{"x":136,"y":1.03},{"x":140,"y":1.05},{"x":141,"y":1.03},{"x":142,"y":1.02},{"x":143,"y":1.04},{"x":144,"y":1.06}]
},
"vconcat":[
{
"width":567,"height":375,
"resolve":{"axis":{"x":"independent","y":"independent"}},
"layer":[
{"encoding":{
"x":{"field":"x","type":"quantitative","scale":{"domain":[0,150],"nice":false,"zero":false},"axis":{"orient":"bottom","values":[0,20,40,60,80,100,120,140],"title":"Decay time (ns)","tickSize":8,"labelPadding":4,"titlePadding":-3}},
"y":{"field":"y","type":"quantitative","scale":{"domain":[0.5,5],"nice":false,"zero":false},"axis":{"orient":"left","values":[1,2,3,4,5],"title":"Intensity","tickSize":8,"labelPadding":4,"titlePadding":6}}},
"layer":[
{"data":{"name":"a0"},"mark":{"type":"point","stroke":"#000000","clip":true}},
{"data":{"name":"a1"},"mark":{"type":"point","stroke":"#f01818","clip":true}},
{"data":{"name":"a2"},"mark":{"type":"point","stroke":"#10dd10","clip":true}},
{"data":{"name":"a3"},"mark":{"type":"point","stroke":"#1a1ac0","clip":true}},
{"data":{"name":"a4"},"mark":{"type":"point","stroke":"#10e0ea","clip":true}},
{"data":{"name":"a5"},"mark":{"type":"point","stroke":"#f010f0","clip":true}},
{"data":{"name":"a6"},"mark":{"type":"point","stroke":"#0e7a2e","clip":true}},
{"data":{"name":"a7"},"mark":{"type":"point","stroke":"#e8892a","clip":true}}
]},
{"data":{"values":[{}]},"mark":{"type":"rule","color":"#000","strokeWidth":1.5},
"encoding":{
"x":{"datum":86.3,"type":"quantitative","axis":{"orient":"bottom","values":[10,30,50,70,90,110,130],"labels":false,"title":null,"tickSize":5,"domain":false}},
"y":{"datum":4.30,"type":"quantitative","axis":{"orient":"left","values":[1.5,2.5,3.5,4.5],"labels":false,"title":null,"tickSize":5,"domain":false}},
"y2":{"datum":2.13}}},
{"data":{"values":[{}]},"mark":{"type":"point","shape":"M-0.5,-1L0.5,-1L0,1Z","fill":"#000","stroke":"#000","size":60},
"encoding":{"x":{"datum":86.3,"type":"quantitative","axis":null},"y":{"datum":2.13,"type":"quantitative","axis":null}}},
{"data":{"name":"la"},"mark":{"type":"text","fontStyle":"italic","fontSize":23,"align":"left","baseline":"alphabetic"},
"encoding":{"x":{"datum":88.2,"type":"quantitative","axis":null},"y":{"field":"y","type":"quantitative","axis":null},"text":{"value":"y"},
"fill":{"field":"s","type":"nominal","scale":{"domain":[0,1,2,3,4,5,6,7],"range":["#000000","#f01818","#10dd10","#1a1ac0","#10e0ea","#f010f0","#0e7a2e","#e8892a"]},"legend":null}}},
{"data":{"name":"la"},"mark":{"type":"text","fontSize":23,"align":"left","baseline":"alphabetic","dx":17},
"encoding":{"x":{"datum":88.2,"type":"quantitative","axis":null},"y":{"field":"y","type":"quantitative","axis":null},"text":{"field":"t"},
"fill":{"field":"s","type":"nominal","scale":{"domain":[0,1,2,3,4,5,6,7],"range":["#000000","#f01818","#10dd10","#1a1ac0","#10e0ea","#f010f0","#0e7a2e","#e8892a"]},"legend":null}}},
{"data":{"values":[{"t":"λₑₘ = 430 nm","x":94.0,"y":4.60}]},"mark":{"type":"text","fontSize":23,"align":"left","baseline":"alphabetic","color":"#000"},
"encoding":{"x":{"field":"x","type":"quantitative","axis":null},"y":{"field":"y","type":"quantitative","axis":null},"text":{"field":"t"}}},
{"data":{"values":[{"t":"(a)","x":38.1,"y":4.66}]},"mark":{"type":"text","fontSize":27,"align":"center","baseline":"alphabetic","color":"#000"},
"encoding":{"x":{"field":"x","type":"quantitative","axis":null},"y":{"field":"y","type":"quantitative","axis":null},"text":{"field":"t"}}}
]
},
{
"width":567,"height":376,
"resolve":{"axis":{"x":"independent","y":"independent"}},
"layer":[
{"encoding":{
"x":{"field":"x","type":"quantitative","scale":{"domain":[0,150],"nice":false,"zero":false},"axis":{"orient":"bottom","values":[0,20,40,60,80,100,120,140],"title":"Decay time (ns)","tickSize":8,"labelPadding":4,"titlePadding":-3}},
"y":{"field":"y","type":"quantitative","scale":{"domain":[1,5],"nice":false,"zero":false},"axis":{"orient":"left","values":[1,2,3,4,5],"title":"Intensity","tickSize":8,"labelPadding":4,"titlePadding":6}}},
"layer":[
{"data":{"name":"b0"},"mark":{"type":"point","stroke":"#000000","clip":true}},
{"data":{"name":"b1"},"mark":{"type":"point","stroke":"#f01818","clip":true}},
{"data":{"name":"b2"},"mark":{"type":"point","stroke":"#10dd10","clip":true}},
{"data":{"name":"b3"},"mark":{"type":"point","stroke":"#1a1ac0","clip":true}},
{"data":{"name":"b4"},"mark":{"type":"point","stroke":"#10e0ea","clip":true}},
{"data":{"name":"b7"},"mark":{"type":"point","stroke":"#e8892a","clip":true}},
{"data":{"name":"b5"},"mark":{"type":"point","stroke":"#f010f0","clip":true}},
{"data":{"name":"b6"},"mark":{"type":"point","stroke":"#0e7a2e","clip":true}}
]},
{"data":{"values":[{}]},"mark":{"type":"rule","color":"#000","strokeWidth":1.5},
"encoding":{
"x":{"datum":89.0,"type":"quantitative","axis":{"orient":"bottom","values":[10,30,50,70,90,110,130],"labels":false,"title":null,"tickSize":5,"domain":false}},
"y":{"datum":4.51,"type":"quantitative","axis":{"orient":"left","values":[1.5,2.5,3.5,4.5],"labels":false,"title":null,"tickSize":5,"domain":false}},
"y2":{"datum":2.64}}},
{"data":{"values":[{}]},"mark":{"type":"point","shape":"M-0.5,-1L0.5,-1L0,1Z","fill":"#000","stroke":"#000","size":60},
"encoding":{"x":{"datum":89.0,"type":"quantitative","axis":null},"y":{"datum":2.64,"type":"quantitative","axis":null}}},
{"data":{"name":"lb"},"mark":{"type":"text","fontStyle":"italic","fontSize":23,"align":"left","baseline":"alphabetic"},
"encoding":{"x":{"datum":91.9,"type":"quantitative","axis":null},"y":{"field":"y","type":"quantitative","axis":null},"text":{"value":"y"},
"fill":{"field":"s","type":"nominal","scale":{"domain":[0,1,2,3,4,5,6,7],"range":["#000000","#f01818","#10dd10","#1a1ac0","#10e0ea","#f010f0","#0e7a2e","#e8892a"]},"legend":null}}},
{"data":{"name":"lb"},"mark":{"type":"text","fontSize":23,"align":"left","baseline":"alphabetic","dx":17},
"encoding":{"x":{"datum":91.9,"type":"quantitative","axis":null},"y":{"field":"y","type":"quantitative","axis":null},"text":{"field":"t"},
"fill":{"field":"s","type":"nominal","scale":{"domain":[0,1,2,3,4,5,6,7],"range":["#000000","#f01818","#10dd10","#1a1ac0","#10e0ea","#f010f0","#0e7a2e","#e8892a"]},"legend":null}}},
{"data":{"values":[{"t":"λₑₘ = 500 nm","x":99.0,"y":4.67}]},"mark":{"type":"text","fontSize":23,"align":"left","baseline":"alphabetic","color":"#000"},
"encoding":{"x":{"field":"x","type":"quantitative","axis":null},"y":{"field":"y","type":"quantitative","axis":null},"text":{"field":"t"}}},
{"data":{"values":[{"t":"(b)","x":35.8,"y":4.54}]},"mark":{"type":"text","fontSize":27,"align":"center","baseline":"alphabetic","color":"#000"},
"encoding":{"x":{"field":"x","type":"quantitative","axis":null},"y":{"field":"y","type":"quantitative","axis":null},"text":{"field":"t"}}}
]
}
]
}
